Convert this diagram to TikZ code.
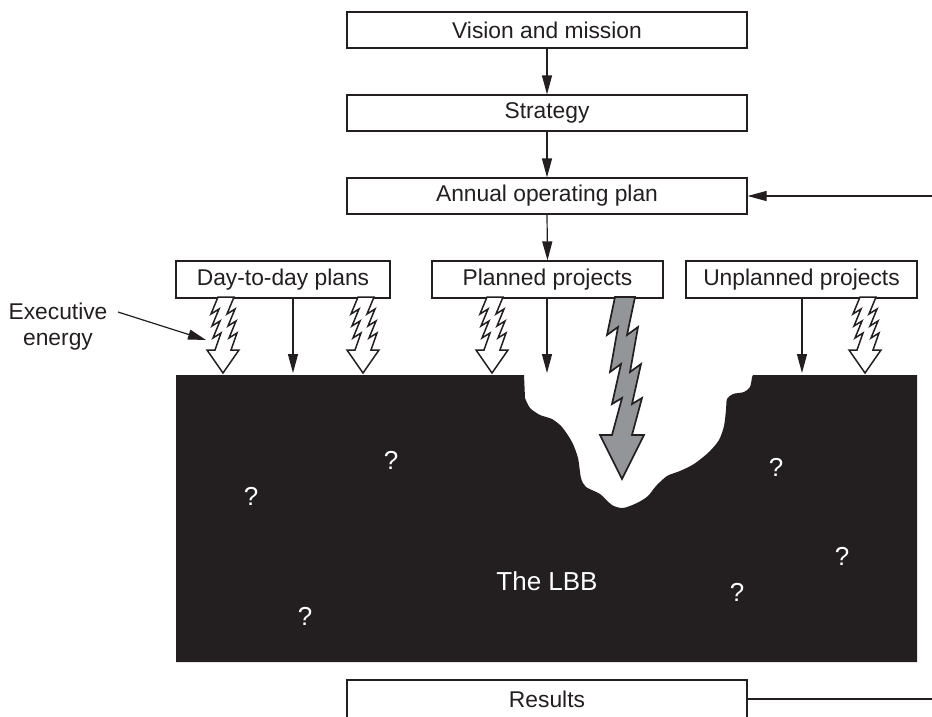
\documentclass[tikz,border=0pt]{standalone}
\usepackage{fontspec}
\setmainfont{Liberation Sans}
\usetikzlibrary{arrows.meta,calc}
\definecolor{ink}{HTML}{231F20}
\definecolor{boltgray}{HTML}{939598}
\tikzset{
  box/.style={draw=ink, line width=1.2pt, fill=white, inner sep=0pt, text=ink,
    minimum height=36pt, font=\fontsize{22.8}{26}\selectfont},
  conn/.style={draw=ink, line width=1.2pt, -{Triangle[length=19pt,width=10pt]}},
  plainline/.style={draw=ink, line width=1.2pt},
  boltw/.style={fill=white, draw=ink, line width=1.5pt, line join=miter},
  boltg/.style={fill=boltgray, draw=ink, line width=1.7pt, line join=miter},
  qmark/.style={text=white, font=\fontsize{26}{30}\selectfont, inner sep=0pt},
  lbl/.style={text=ink, font=\fontsize{22.8}{26}\selectfont, align=center, inner sep=0pt}
}
\newcommand\smallbolt[1]{%
  \filldraw[boltw] ({#1-5},297) -- ({#1-12},314) -- ({#1-4},309) -- ({#1-11},326)
    -- ({#1-3},321) -- ({#1-10},338) -- ({#1-2},333) -- ({#1-8},350)
    -- ({#1-16},350) -- ({#1},373) -- ({#1+16},350)
    -- ({#1+8},350) -- ({#1+14},333) -- ({#1+6},338) -- ({#1+13},321)
    -- ({#1+5},326) -- ({#1+12},309) -- ({#1+4},314) -- ({#1+11},297) -- cycle;}
\begin{document}
\begin{tikzpicture}[x=1pt,y=-1pt]
\useasboundingbox (0,0) rectangle (932,716);

% black region (the LBB)
\fill[ink] (176,375) -- (524,375) -- (525,398)
  -- plot[smooth,tension=0.45] coordinates {(525,398) (530,408) (540,415) (552,419) (562,427) (572,442) (578,458) (581,478) (586,487) (600,494) (612,505) (623,508) (637,503) (648,496) (656,486) (667,476) (680,471) (694,464) (709,452) (719,440) (724,426) (726,410) (727,399) (733,394) (744,392) (750,387) (752,377)}
  -- (753,375) -- (917,375) -- (917,662) -- (176,662) -- cycle;

% boxes
\node[box, minimum width=400pt] (vis) at (547,30) {Vision and mission};
\node[box, minimum width=400pt] (str) at (547,113) {Strategy};
\node[box, minimum width=400pt] (ann) at (547,196) {Annual operating plan};
\node[box, minimum width=214pt, minimum height=37pt] (day) at (283,279.5) {Day-to-day plans};
\node[box, minimum width=231pt, minimum height=37pt] (pla) at (547.5,279.5) {Planned projects};
\node[box, minimum width=231pt, minimum height=37pt] (unp) at (801.5,279.5) {Unplanned projects};
\node[box, minimum width=400pt, minimum height=38pt] (res) at (547,699) {Results};

% connectors between boxes
\draw[conn] (vis.south) -- (str.north);
\draw[conn] (str.south) -- (ann.north);
\draw[conn] (ann.south) -- (pla.north);

% feedback lines
\coordinate (fbin) at (932,196);
\coordinate (fbout) at (932,699);
\draw[conn] (fbin) -- (ann.east);
\draw[plainline] (res.east) -- (fbout);

% thin arrows into the LBB
\coordinate (t1) at (293,373);
\coordinate (t2) at (547,373);
\coordinate (t3) at (802,373);
\draw[conn] (day.south -| t1) -- (t1);
\draw[conn] (pla.south -| t2) -- (t2);
\draw[conn] (unp.south -| t3) -- (t3);

% executive energy bolts
\smallbolt{223}
\smallbolt{363}
\smallbolt{492}
\smallbolt{865}

% big gray bolt
\filldraw[boltg] (615,297) -- (607,335) -- (618,327) -- (610,372) -- (621,364)
  -- (612,404) -- (622,398) -- (612,435) -- (600,435) -- (622,479) -- (644,435)
  -- (632,435) -- (642,398) -- (632,404) -- (641,364) -- (630,372) -- (638,327)
  -- (627,335) -- (635,297) -- cycle;

% executive energy label
\node[lbl] (exe) at (58,327) {Executive\\energy};
\coordinate (exeS) at (118,312);
\coordinate (exeT) at (206,340);
\draw[conn, -{Triangle[length=18pt,width=10pt]}] (exeS) -- (exeT);

% question marks and label
\node[qmark] (q1) at (251,496) {?};
\node[qmark] (q2) at (391,460) {?};
\node[qmark] (q3) at (305,616) {?};
\node[qmark] (q4) at (776,467) {?};
\node[qmark] (q5) at (842,556) {?};
\node[qmark] (q6) at (737,592) {?};
\node[qmark] (lbb) at (547,581) {The LBB};
\end{tikzpicture}
\end{document}
